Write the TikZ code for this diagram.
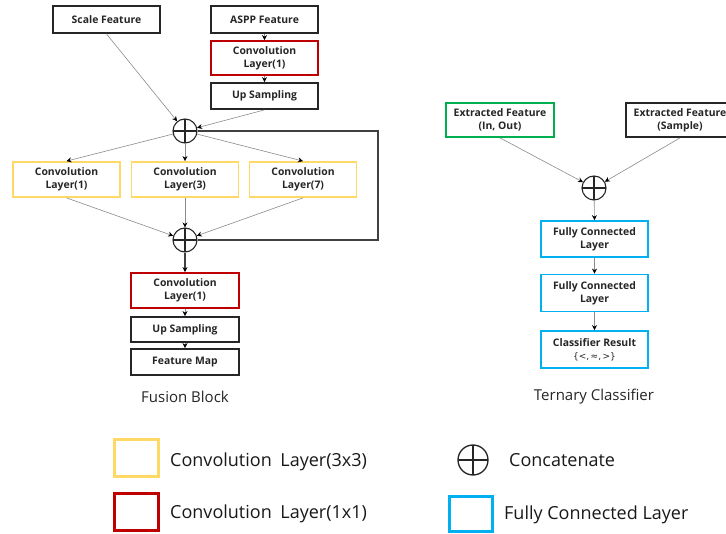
\documentclass[tikz,border=0pt]{standalone}
\usepackage{fontspec}
\setmainfont{Open Sans}
\newfontfamily\symfont{DejaVu Sans}
\usetikzlibrary{arrows.meta}
\definecolor{cyel}{HTML}{FFD966}
\definecolor{cred}{HTML}{C00000}
\definecolor{cblue}{HTML}{00B0F0}
\definecolor{cgreen}{HTML}{00B050}
\tikzset{
  blk/.style={draw=black!85, line width=1.8pt, minimum width=107pt, align=center,
    font=\fontsize{10.4}{12.8}\selectfont\bfseries, text=black!85, inner sep=1pt},
  yelbox/.style={blk, draw=cyel},
  redbox/.style={blk, draw=cred},
  bluebox/.style={blk, draw=cblue},
  greenbox/.style={blk, draw=cgreen},
  concat/.style={circle, draw=black!85, line width=1.1pt, minimum size=24pt, inner sep=0pt,
    path picture={\draw[line width=1.1pt, black!85] (path picture bounding box.north) -- (path picture bounding box.south)
      (path picture bounding box.west) -- (path picture bounding box.east);}},
  arr/.style={draw=black!45, line width=0.6pt, -{Stealth[length=5pt,width=5pt,black]}},
  darr/.style={draw=black!75, line width=1.2pt, -{Stealth[length=5pt,width=5pt,black]}},
  fb/.style={draw=black!75, line width=1.4pt},
  title/.style={font=\fontsize{15}{18}\selectfont, text=black!85},
  legtxt/.style={font=\fontsize{18}{21}\selectfont, text=black!90, anchor=west, inner sep=0pt},
  legsq/.style={draw, line width=3pt, fill=white}
}
\begin{document}
\begin{tikzpicture}[x=1pt,y=-1pt]
\useasboundingbox[fill=white] (0,0) rectangle (726,534);
% Fusion block
\node[blk, minimum height=27pt] (sf) at (106.5,19.5) {Scale Feature};
\node[blk, minimum height=27pt] (aspp) at (264.5,19.5) {ASPP Feature};
\node[redbox, minimum height=34pt] (cv1) at (264.5,58) {Convolution\\Layer(1)};
\node[blk, minimum height=26pt] (up1) at (264.5,96) {Up Sampling};
\node[concat] (c1) at (185,131) {};
\node[yelbox, minimum height=35pt] (cl1) at (66.5,179.5) {Convolution\\Layer(1)};
\node[yelbox, minimum height=35pt] (cl3) at (185,179.5) {Convolution\\Layer(3)};
\node[yelbox, minimum height=35pt] (cl7) at (303,179.5) {Convolution\\Layer(7)};
\node[concat] (c2) at (185,240) {};
\node[redbox, minimum height=35pt, minimum width=108pt] (cv2) at (185,290.5) {Convolution\\Layer(1)};
\node[blk, minimum height=25pt, minimum width=108pt] (up2) at (185,329.5) {Up Sampling};
\node[blk, minimum height=26pt, minimum width=108pt] (fm) at (185,362) {Feature Map};
\node[title] (ft) at (185,397) {Fusion Block};
\coordinate (fbr1) at (378,131);
\coordinate (fbr2) at (378,240);
\draw[arr] (sf.south) -- (c1);
\draw[arr] (aspp.south) -- (cv1.north);
\draw[arr] (cv1.south) -- (up1.north);
\draw[arr] (up1.south) -- (c1);
\draw[arr] (c1) -- (cl1.north);
\draw[arr] (c1) -- (cl3.north);
\draw[arr] (c1) -- (cl7.north);
\draw[arr] (cl1.south) -- (c2);
\draw[arr] (cl3.south) -- (c2);
\draw[arr] (cl7.south) -- (c2);
\draw[fb] (c1.east) -- (fbr1) -- (fbr2) -- (c2.east);
\draw[darr] (c2) -- (cv2.north);
\draw[arr] (cv2.south) -- (up2.north);
\draw[arr] (up2.south) -- (fm.north);
% Ternary classifier
\node[greenbox, minimum height=34pt, minimum width=108pt] (ef1) at (500,120) {Extracted Feature\\(In, Out)};
\node[blk, minimum height=34pt, minimum width=108pt] (ef2) at (680,120) {Extracted Feature\\(Sample)};
\node[concat] (c3) at (594,188) {};
\node[bluebox, minimum height=36pt] (fc1) at (594.5,239) {Fully Connected\\Layer};
\node[bluebox, minimum height=37pt] (fc2) at (594.5,293) {Fully Connected\\Layer};
\node[bluebox, minimum height=37pt] (cr) at (594.5,349.5) {Classifier Result\\{\symfont\mdseries\fontsize{9}{12}\selectfont\{<,\,≈,\,>\}}};
\node[title] (tt) at (594,397) {Ternary Classifier};
\draw[arr] (ef1.south) -- (c3);
\draw[arr] (ef2.south) -- (c3);
\draw[arr] (c3) -- (fc1.north);
\draw[arr] (fc1.south) -- (fc2.north);
\draw[arr] (fc2.south) -- (cr.north);
% Legend
\node[legsq, draw=cyel, minimum width=44pt, minimum height=37pt] (ly) at (136,458.5) {};
\node[legtxt] (lyt) at (170,462) {Convolution\hspace{4pt} Layer(3x3)};
\node[legsq, draw=cred, minimum width=44pt, minimum height=36pt] (lr) at (136,512) {};
\node[legtxt] (lrt) at (170,514) {Convolution\hspace{4pt} Layer(1x1)};
\node[concat, minimum size=30pt, line width=1.3pt] (lc) at (473,460) {};
\node[legtxt] (lct) at (509,460) {Concatenate};
\node[legsq, draw=cblue, minimum width=43pt, minimum height=34pt] (lb) at (470.5,514) {};
\node[legtxt] (lbt) at (504,515) {Fully Connected Layer};
\end{tikzpicture}
\end{document}
